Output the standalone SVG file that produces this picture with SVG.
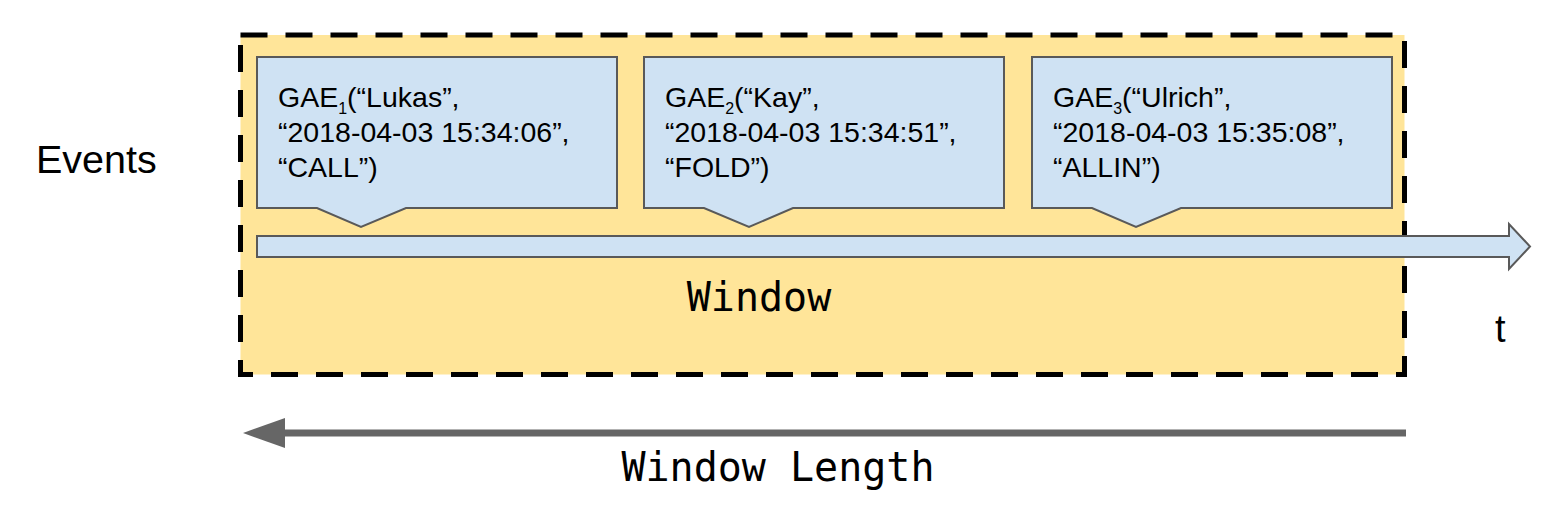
<svg xmlns="http://www.w3.org/2000/svg" width="1568" height="528" viewBox="0 0 1568 528">
<style>
.box{fill:#cfe2f3;stroke:#595959;stroke-width:2}
.txt{font-family:"Liberation Sans",Arial,sans-serif;font-size:28.5px;fill:#000}
.sub{font-size:16px}
.mono{font-family:"DejaVu Sans Mono","Liberation Mono",monospace;font-size:40px;fill:#000}
</style>
<rect width="1568" height="528" fill="#ffffff"/>
<g id="window">
<rect x="240.5" y="35" width="1164" height="339.5" fill="#ffe599" stroke="#000" stroke-width="5" stroke-dasharray="27 18"/>
<text class="mono" x="759" y="311" text-anchor="middle">Window</text>
</g>
<g id="timeline">
<path class="box" d="M257,236 H1509 V224 L1530,246.5 L1509,269 V257 H257 Z"/>
<text class="txt" x="1495" y="342" style="font-size:38px">t</text>
</g>
<g id="event1">
<path class="box" d="M257,57 H617 V208 H406 L361,227 L317,208 H257 Z"/>
<text class="txt" x="278" y="107">GAE<tspan class="sub" dy="7">1</tspan><tspan dy="-7">(“Lukas”,</tspan></text>
<text class="txt" x="278" y="142">“2018-04-03 15:34:06”,</text>
<text class="txt" x="278" y="177">“CALL”)</text>
</g>
<g id="event2">
<path class="box" d="M644,57 H1004 V208 H793 L749,227 L704,208 H644 Z"/>
<text class="txt" x="665" y="107">GAE<tspan class="sub" dy="7">2</tspan><tspan dy="-7">(“Kay”,</tspan></text>
<text class="txt" x="665" y="142">“2018-04-03 15:34:51”,</text>
<text class="txt" x="665" y="177">“FOLD”)</text>
</g>
<g id="event3">
<path class="box" d="M1032,57 H1392 V208 H1181 L1136,227 L1092,208 H1032 Z"/>
<text class="txt" x="1053" y="107">GAE<tspan class="sub" dy="7">3</tspan><tspan dy="-7">(“Ulrich”,</tspan></text>
<text class="txt" x="1053" y="142">“2018-04-03 15:35:08”,</text>
<text class="txt" x="1053" y="177">“ALLIN”)</text>
</g>
<g id="events-label">
<text class="txt" x="36" y="173" style="font-size:39.5px">Events</text>
</g>
<g id="connectors">
<line x1="1406" y1="433" x2="280" y2="433" stroke="#666666" stroke-width="7"/>
<path d="M243,433 L285,418 L285,448 Z" fill="#666666"/>
</g>
<g id="window-length">
<text class="mono" x="778" y="481" text-anchor="middle">Window Length</text>
</g>
</svg>
